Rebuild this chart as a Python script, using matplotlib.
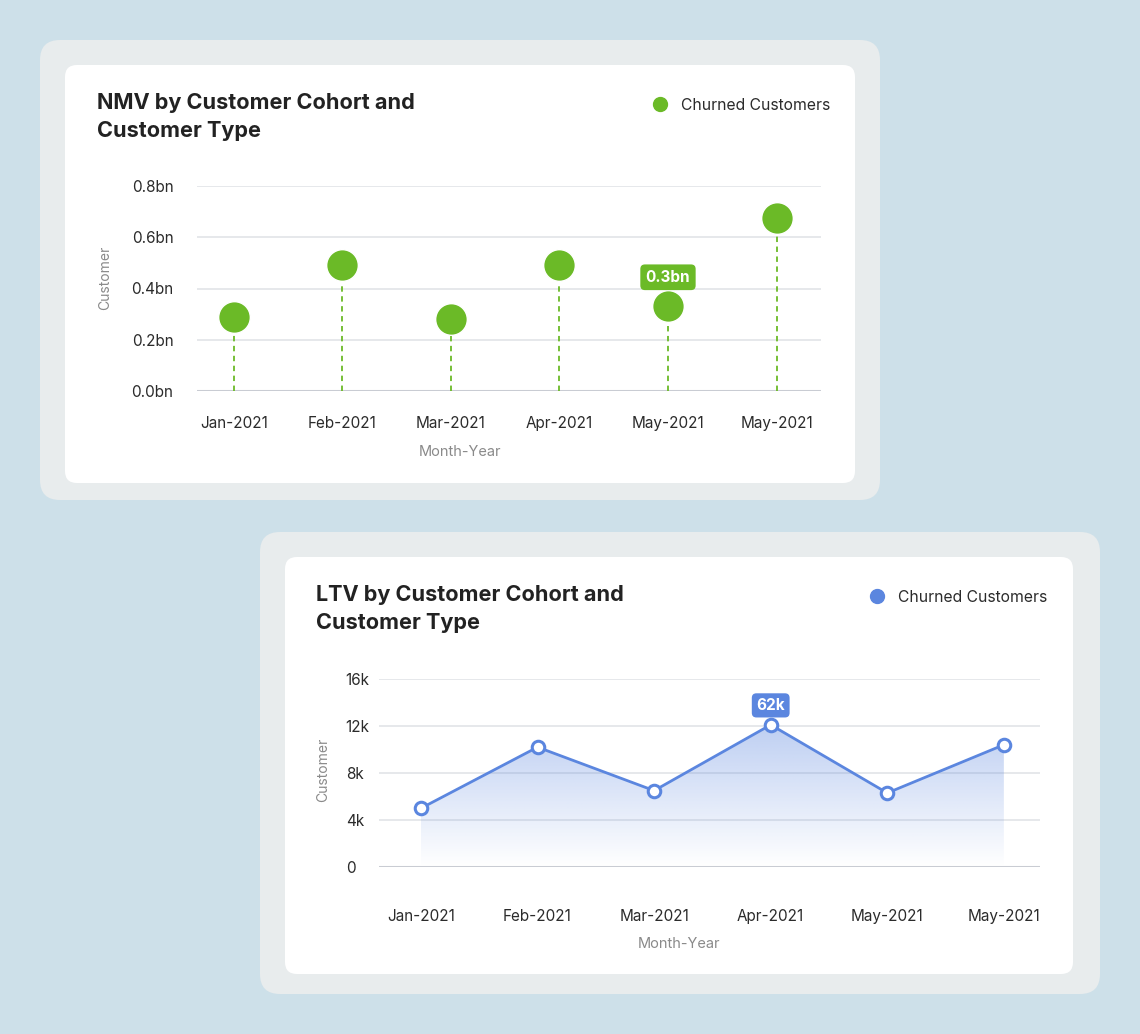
import matplotlib
matplotlib.use("Agg")
import matplotlib.pyplot as plt
import numpy as np
from matplotlib.patches import FancyBboxPatch
from matplotlib.lines import Line2D
from matplotlib.colors import to_rgb

# ---------------- data ----------------
months = ["Jan-2021", "Feb-2021", "Mar-2021", "Apr-2021", "May-2021", "May-2021"]
nmv_values = [0.29, 0.49, 0.28, 0.49, 0.33, 0.675]          # bn
nmv_ticks = [0.0, 0.2, 0.4, 0.6, 0.8]
nmv_tick_labels = ["0.0bn", "0.2bn", "0.4bn", "0.6bn", "0.8bn"]
nmv_callout_idx = 4
nmv_callout_text = "0.3bn"

ltv_values = [5000, 10200, 6500, 12100, 6300, 10400]
ltv_ticks = [0, 4000, 8000, 12000, 16000]
ltv_tick_labels = ["0", "4k", "8k", "12k", "16k"]
ltv_callout_idx = 3
ltv_callout_text = "62k"

series_name = "Churned Customers"
title_top = "NMV by Customer Cohort and\nCustomer Type"
title_bottom = "LTV by Customer Cohort and\nCustomer Type"
xlabel = "Month-Year"
ylabel = "Customer"

# ---------------- style ----------------
W, H = 1140, 1034
BG = "#cde0e9"
OUTER = "#e8eced"
CARD = "#ffffff"
GREEN = "#6bba27"
BLUE = "#5b86df"
GRID = "#dfe2e6"
BASE = "#c9ccd3"
TXT = "#2b2b2b"
MUTED = "#8a8a8a"
FONT = ["Inter", "DejaVu Sans"]
plt.rcParams["font.family"] = FONT

fig = plt.figure(figsize=(W / 100, H / 100), dpi=100)
fig.patch.set_facecolor(BG)


def fx(x):
    return x / W


def fy(y):
    return 1 - y / H


def rect(x0, y0, x1, y1):
    return [x0 / W, 1 - y1 / H, (x1 - x0) / W, (y1 - y0) / H]


def card(x0, y0, x1, y1, color, r):
    p = FancyBboxPatch((fx(x0), fy(y1)), (x1 - x0) / W, (y1 - y0) / H,
                       boxstyle=f"round,pad=0,rounding_size={r / W}",
                       transform=fig.transFigure, facecolor=color,
                       edgecolor="none", zorder=0,
                       mutation_aspect=W / H)
    fig.add_artist(p)


# panels
card(40, 40, 880, 500, OUTER, 20)
card(65, 65, 855, 483, CARD, 12)
card(260, 532, 1100, 994, OUTER, 20)
card(285, 557, 1073, 974, CARD, 12)


def style_axes(ax, ticks, labels, ypad, xpad, yha="right"):
    ax.set_facecolor("none")
    for s in ax.spines.values():
        s.set_visible(False)
    ax.set_yticks(ticks)
    ax.set_yticklabels(labels, ha=yha)
    ax.tick_params(axis="both", length=0, labelsize=11, colors=TXT)
    ax.tick_params(axis="y", pad=ypad)
    ax.tick_params(axis="x", pad=xpad)
    for t in ticks[1:]:
        ax.axhline(t, color=GRID, lw=1.1, zorder=0)
    ax.axhline(ticks[0], color=BASE, lw=2.2, zorder=1)
    ax.set_xticks(range(len(months)))
    ax.set_xticklabels(months)


# ---------------- top chart ----------------
ax1 = fig.add_axes(rect(197, 186, 821, 391))
ax1.set_xlim(-0.34, 5.41)
ax1.set_ylim(0, 0.8)
style_axes(ax1, nmv_ticks, nmv_tick_labels, ypad=17, xpad=18)
x = np.arange(len(months))
ax1.vlines(x, 0, nmv_values, colors=GREEN, linestyles=(0, (3, 2.5)), lw=1.3, zorder=2)
ax1.scatter(x, nmv_values, s=520, color=GREEN, zorder=3, clip_on=False,
            edgecolors="white", linewidths=1.0)
ax1.annotate(nmv_callout_text, (x[nmv_callout_idx], nmv_values[nmv_callout_idx]),
             xytext=(0, 21), textcoords="offset points", ha="center", va="center",
             color="white", fontsize=11, fontweight="bold",
             bbox=dict(boxstyle="round,pad=0.35,rounding_size=0.3", fc=GREEN, ec="none"),
             zorder=5)

fig.text(fx(97), fy(117), title_top, ha="left", va="center", fontsize=15.6,
         fontweight="bold", color="#222222", linespacing=1.5)
fig.text(fx(105), fy(278), ylabel, rotation=90, ha="center", va="center",
         fontsize=10, color=MUTED)
fig.text(fx(460), fy(452), xlabel, ha="center", va="center", fontsize=10.5, color=MUTED)

leg1 = ax1.legend(handles=[Line2D([], [], marker="o", ls="none", color=GREEN, markersize=10)],
                  labels=[series_name], loc="center right",
                  bbox_to_anchor=(fx(830), fy(105)), bbox_transform=fig.transFigure,
                  frameon=False, borderpad=0, borderaxespad=0, handletextpad=0.8,
                  handlelength=1.0, prop={"size": 11.3, "family": FONT})
for t in leg1.get_texts():
    t.set_color(TXT)

# ---------------- bottom chart ----------------
ax2 = fig.add_axes(rect(379, 679, 1040, 867))
ax2.set_xlim(-0.36, 5.31)
ax2.set_ylim(0, 16000)
style_axes(ax2, ltv_ticks, ltv_tick_labels, ypad=24, xpad=30, yha="left")

# gradient area
verts = np.concatenate([[[x[0], 0]], np.column_stack([x, ltv_values]), [[x[-1], 0]]])
poly = plt.Polygon(verts, closed=True, facecolor="none", edgecolor="none")
ax2.add_patch(poly)
top_v = max(ltv_values)
n = 256
alpha = np.linspace(0.0, 0.40, n).reshape(-1, 1)
rgb = np.array(to_rgb(BLUE))
img = np.zeros((n, 2, 4))
img[..., :3] = rgb
img[..., 3] = np.repeat(alpha, 2, axis=1)
im = ax2.imshow(img, extent=[x[0], x[-1], 0, top_v], origin="lower",
                aspect="auto", zorder=1, interpolation="bilinear")
im.set_clip_path(poly)
ax2.set_xlim(-0.36, 5.31)
ax2.set_ylim(0, 16000)

ax2.plot(x, ltv_values, color=BLUE, lw=2, zorder=3, clip_on=False)
ax2.plot(x, ltv_values, ls="none", marker="o", markersize=9, markerfacecolor="white",
         markeredgecolor=BLUE, markeredgewidth=2.2, zorder=4, clip_on=False)
ax2.annotate(ltv_callout_text, (x[ltv_callout_idx], ltv_values[ltv_callout_idx]),
             xytext=(0, 14), textcoords="offset points", ha="center", va="center",
             color="white", fontsize=11, fontweight="bold",
             bbox=dict(boxstyle="round,pad=0.3,rounding_size=0.3", fc=BLUE, ec="none"),
             zorder=5)

fig.text(fx(316), fy(609), title_bottom, ha="left", va="center", fontsize=15.6,
         fontweight="bold", color="#222222", linespacing=1.5)
fig.text(fx(323), fy(770), ylabel, rotation=90, ha="center", va="center",
         fontsize=10, color=MUTED)
fig.text(fx(679), fy(944), xlabel, ha="center", va="center", fontsize=10.5, color=MUTED)

leg2 = ax2.legend(handles=[Line2D([], [], marker="o", ls="none", color=BLUE, markersize=10)],
                  labels=[series_name], loc="center right",
                  bbox_to_anchor=(fx(1047), fy(597)), bbox_transform=fig.transFigure,
                  frameon=False, borderpad=0, borderaxespad=0, handletextpad=0.8,
                  handlelength=1.0, prop={"size": 11.3, "family": FONT})
for t in leg2.get_texts():
    t.set_color(TXT)

fig.savefig("out.png", dpi=100, facecolor=BG)
